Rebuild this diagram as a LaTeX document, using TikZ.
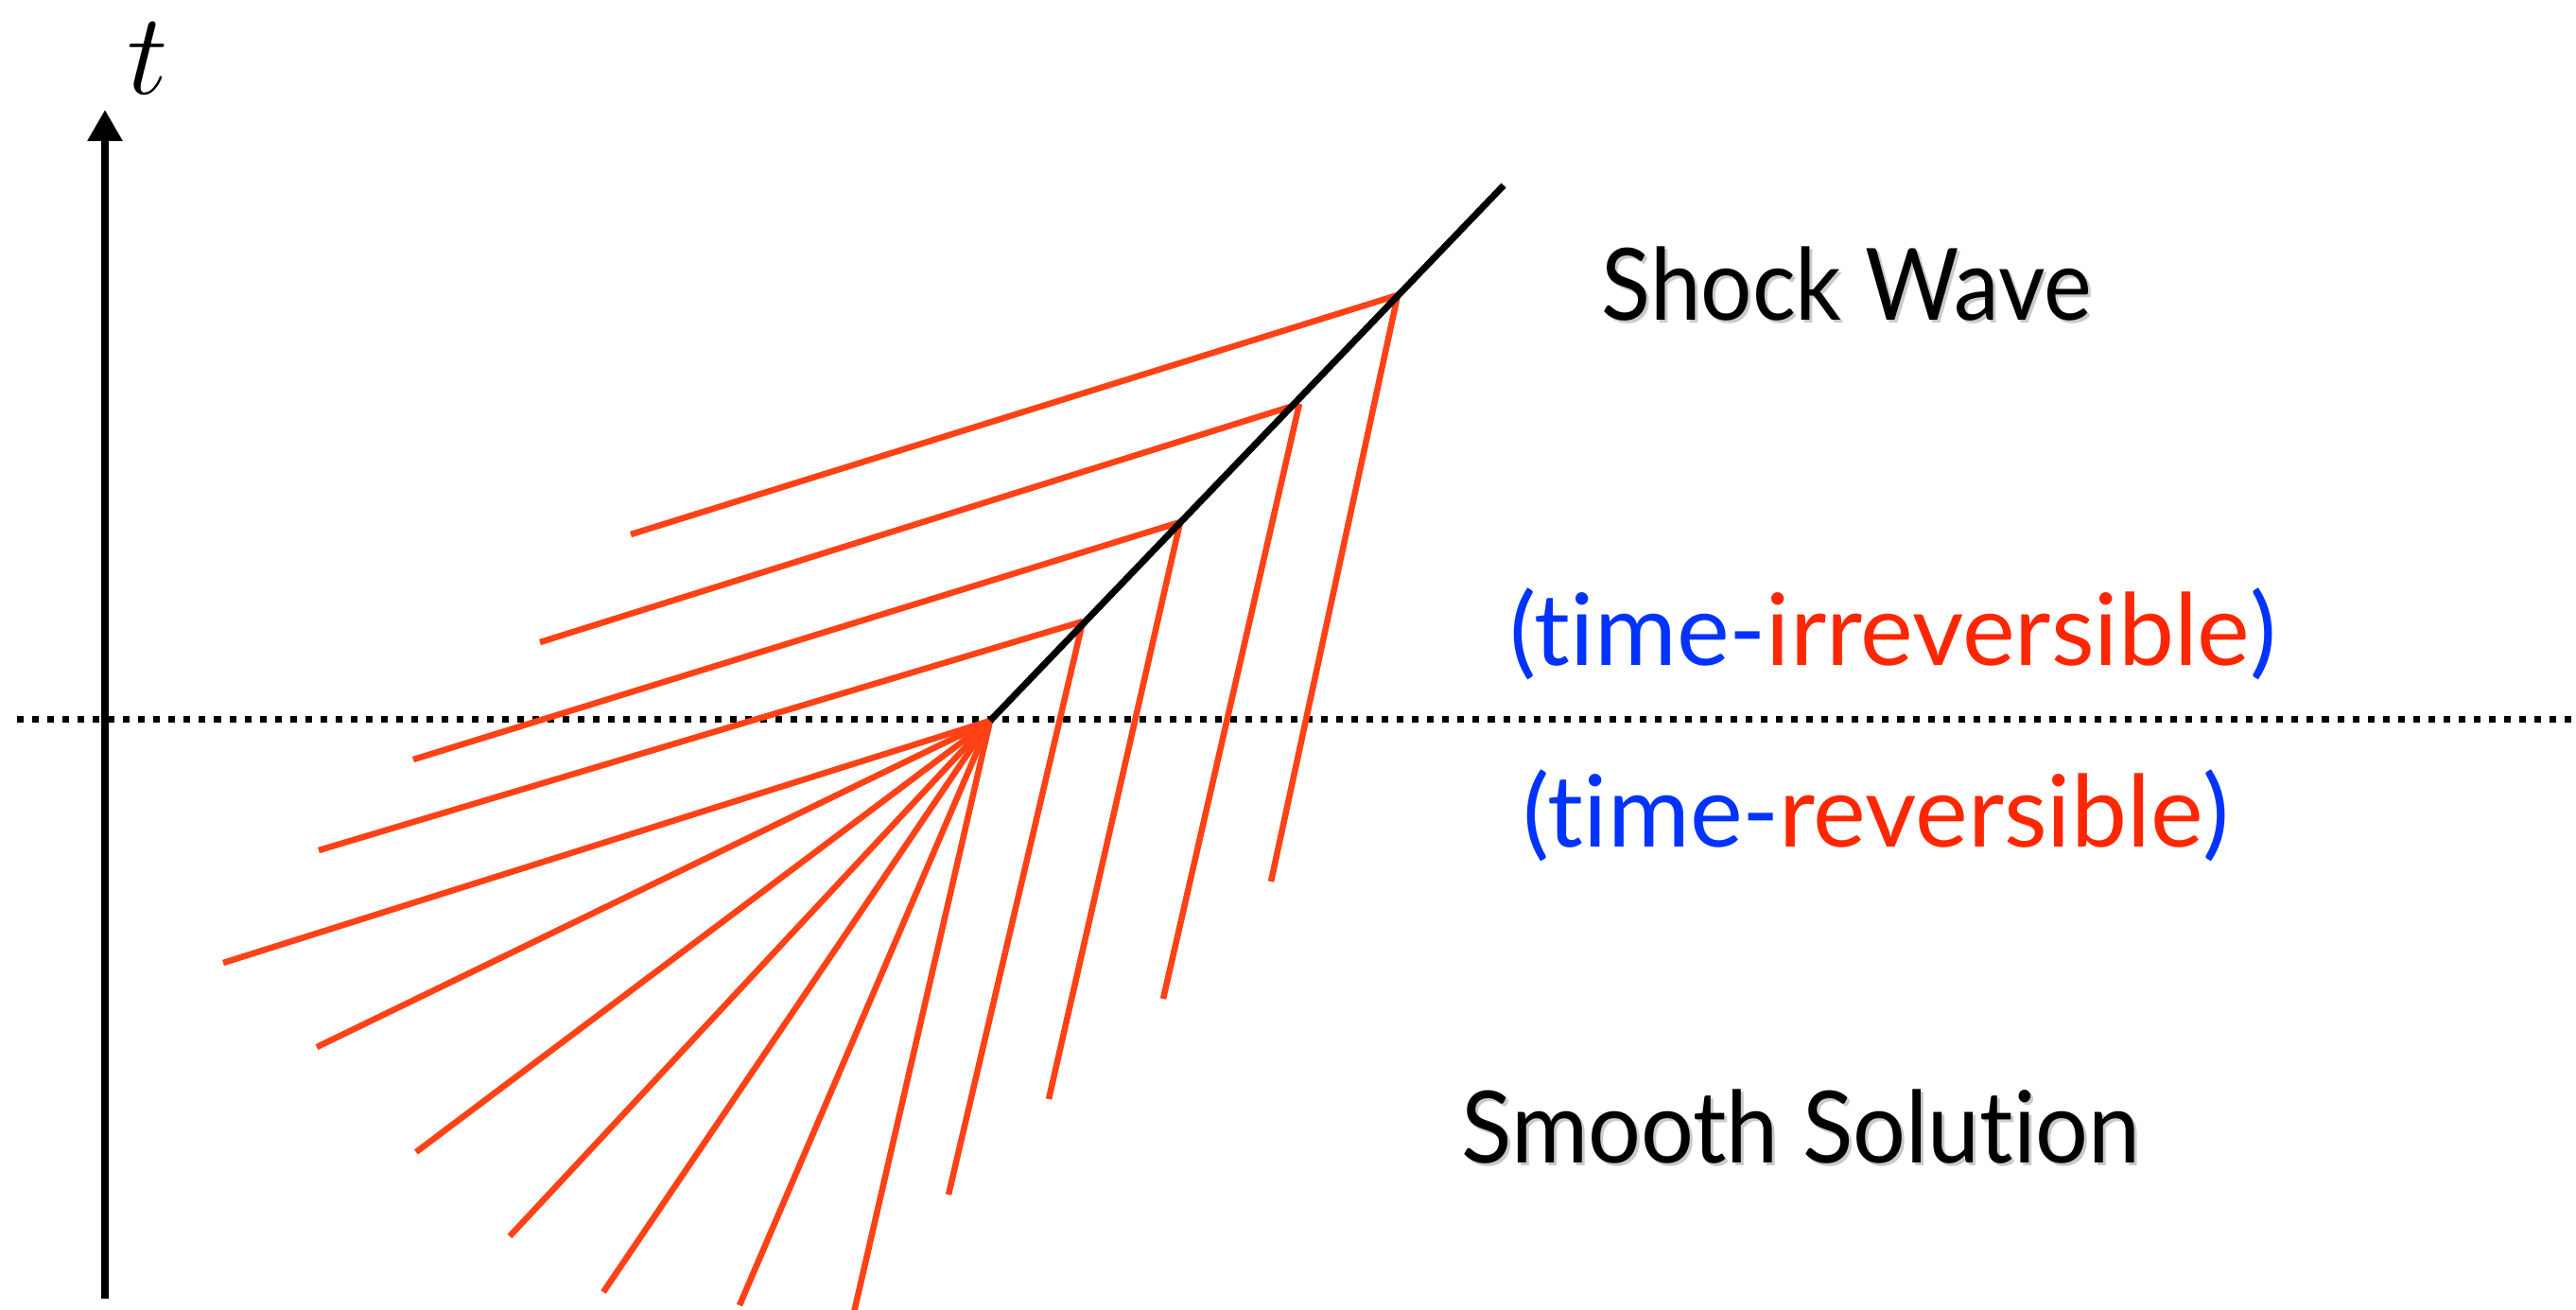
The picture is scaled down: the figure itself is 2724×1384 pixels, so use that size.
\documentclass[tikz,border=0pt]{standalone}
\usepackage{fontspec}
\usepackage{graphicx}
\setmainfont{Lato}[Ligatures={NoCommon}]
\usetikzlibrary{arrows.meta}
\definecolor{rayred}{RGB}{255,65,22}
\definecolor{txtred}{RGB}{255,38,0}
\definecolor{txtblue}{RGB}{0,51,255}
\newcommand{\narrow}[2][0.91]{\scalebox{#1}[1]{#2}}
\begin{document}
\begin{tikzpicture}[x=0.01cm,y=-0.01cm,
  ray/.style={draw=rayred,line width=1.85pt},
  shock/.style={draw=black,line width=2pt},
  axisline/.style={draw=black,line width=2.3pt,-{Triangle[width=10pt,length=9.4pt]}},
  dotline/.style={draw=black,line width=2pt,dash pattern=on 2pt off 2.56pt},
  label/.style={inner sep=0pt,anchor=base west,font=\fontsize{30}{36}\selectfont},
  shadowlabel/.style={label,text=black!35,opacity=0.6}
]
\useasboundingbox (0,0) rectangle (2724,1384);
% axis
\coordinate (axB) at (111,1373);
\coordinate (axT) at (111,116);
\draw[axisline] (axB) -- (axT);
\node[inner sep=0pt,font=\Huge,scale=1.4] (tlab) at (156,62) {$t$};
% dotted line
\coordinate (dL) at (18,760);
\coordinate (dR) at (2724,760);
\draw[dotline] (dL) -- (dR);
% key points
\coordinate (O) at (1047,762);
\coordinate (P1) at (1145,657);
\coordinate (P2) at (1248,552);
\coordinate (P3) at (1374,427);
\coordinate (P4) at (1478,312);
\coordinate (S) at (1590,196);
% fan from origin
\coordinate (f1) at (236,1018);
\coordinate (f2) at (335,1107);
\coordinate (f3) at (440,1218);
\coordinate (f4) at (539,1307);
\coordinate (f5) at (638,1366);
\coordinate (f6) at (782,1380);
\coordinate (f7) at (902,1392);
\foreach \e in {f1,f2,f3,f4,f5,f6,f7}{\draw[ray] (O) -- (\e);}
% left rays from shock points
\coordinate (l1) at (337,899);
\coordinate (l2) at (437,803);
\coordinate (l3) at (571,679);
\coordinate (l4) at (667,565);
\draw[ray] (P1) -- (l1);
\draw[ray] (P2) -- (l2);
\draw[ray] (P3) -- (l3);
\draw[ray] (P4) -- (l4);
% right rays
\coordinate (r1) at (1003,1263);
\coordinate (r2) at (1109,1162);
\coordinate (r3) at (1230,1056);
\coordinate (r4) at (1344,932);
\draw[ray] (P1) -- (r1);
\draw[ray] (P2) -- (r2);
\draw[ray] (P3) -- (r3);
\draw[ray] (P4) -- (r4);
% shock
\draw[shock] (O) -- (S);
% labels
\node[shadowlabel] at (1696,341) {\narrow{Shock Wave}};
\node[label] (sw) at (1693,338) {\narrow{Shock Wave}};
\node[label] (irr) at (1596,703) {\textcolor{txtblue}{(time-}\textcolor{txtred}{irreversible}\textcolor{txtblue}{)}};
\node[label] (rev) at (1610,895) {\textcolor{txtblue}{(time-}\textcolor{txtred}{reversible}\textcolor{txtblue}{)}};
\node[shadowlabel] at (1548,1232) {\narrow[0.935]{Smooth Solution}};
\node[label] (ss) at (1545,1229) {\narrow[0.935]{Smooth Solution}};
\end{tikzpicture}
\end{document}
